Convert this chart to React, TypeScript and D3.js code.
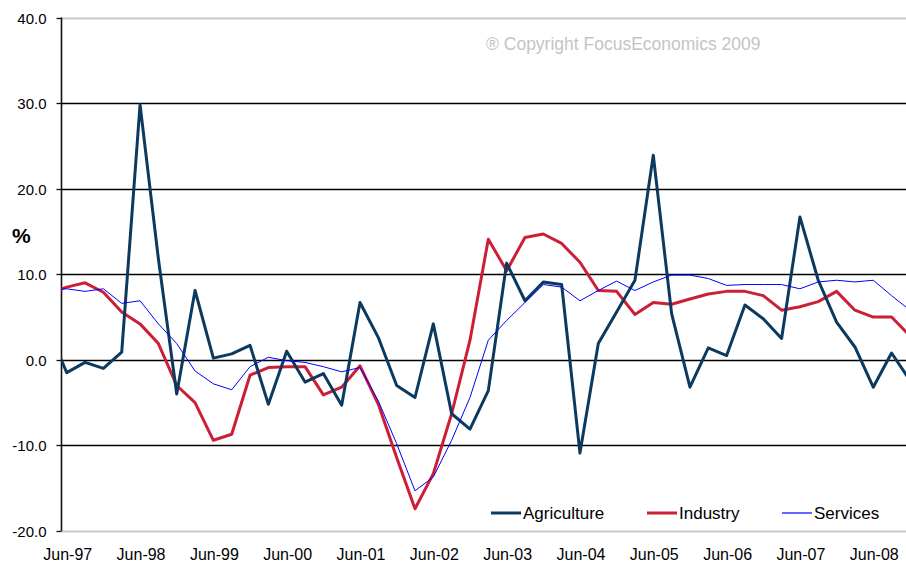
import React from 'react'
import * as d3 from 'd3'

// quarterly categories (Mar-97 sits just left of the axis and gets clipped)
const quarters = [
  'Mar-97', 'Jun-97', 'Sep-97', 'Dec-97',
  'Mar-98', 'Jun-98', 'Sep-98', 'Dec-98',
  'Mar-99', 'Jun-99', 'Sep-99', 'Dec-99',
  'Mar-00', 'Jun-00', 'Sep-00', 'Dec-00',
  'Mar-01', 'Jun-01', 'Sep-01', 'Dec-01',
  'Mar-02', 'Jun-02', 'Sep-02', 'Dec-02',
  'Mar-03', 'Jun-03', 'Sep-03', 'Dec-03',
  'Mar-04', 'Jun-04', 'Sep-04', 'Dec-04',
  'Mar-05', 'Jun-05', 'Sep-05', 'Dec-05',
  'Mar-06', 'Jun-06', 'Sep-06', 'Dec-06',
  'Mar-07', 'Jun-07', 'Sep-07', 'Dec-07',
  'Mar-08', 'Jun-08', 'Sep-08', 'Dec-08',
]

const agriculture = [
  3.5, -1.5, -0.3, -1.0,
  0.9, 29.8, 11.8, -4.0,
  8.1, 0.2, 0.7, 1.7,
  -5.2, 1.0, -2.6, -1.6,
  -5.3, 6.7, 2.6, -3.0,
  -4.4, 4.2, -6.3, -8.1,
  -3.6, 11.3, 6.9, 9.1,
  8.8, -10.9, 1.9, 5.6,
  9.3, 23.9, 5.4, -3.2,
  1.4, 0.5, 6.4, 4.8,
  2.5, 16.7, 9.3, 4.4,
  1.5, -3.2, 0.8, -2.4,
]

const industry = [
  7.8, 8.5, 9.0, 7.9,
  5.6, 4.2, 1.9, -3.0,
  -5.0, -9.4, -8.7, -1.8,
  -0.9, -0.8, -0.8, -4.1,
  -3.2, -0.7, -5.2, -11.4,
  -17.4, -13.3, -6.3, 2.3,
  14.1, 10.4, 14.3, 14.7,
  13.6, 11.4, 8.1, 8.0,
  5.3, 6.7, 6.5, 7.1,
  7.7, 8.0, 8.0, 7.5,
  5.8, 6.2, 6.8, 8.0,
  5.8, 5.0, 5.0, 2.8,
]

const services = [
  8.2, 8.3, 8.0, 8.3,
  6.6, 6.9, 4.2, 1.9,
  -1.3, -2.8, -3.5, -0.8,
  0.3, -0.1, -0.3, -0.8,
  -1.4, -0.9, -4.8, -9.8,
  -15.3, -13.7, -9.4, -4.4,
  2.3, 4.6, 6.7, 8.8,
  8.5, 6.9, 8.1, 9.2,
  8.1, 9.1, 9.9, 9.9,
  9.5, 8.7, 8.8, 8.8,
  8.8, 8.3, 9.1, 9.3,
  9.1, 9.3, 7.5, 5.8,
]

const xTickLabels = [
  'Jun-97', 'Jun-98', 'Jun-99', 'Jun-00', 'Jun-01', 'Jun-02',
  'Jun-03', 'Jun-04', 'Jun-05', 'Jun-06', 'Jun-07', 'Jun-08',
]
const yTicks = [-20, -10, 0, 10, 20, 30, 40]

const seriesNames = ['Agriculture', 'Industry', 'Services']

export default function App() {
  const width = 906,
    height = 566

  const plotLeft = 61.5,
    plotTop = 17.5,
    plotBottom = 531

  // quarter spacing is ~18.33px, Jun-97 at ~66.7
  const x = d3
    .scalePoint<string>()
    .domain(quarters)
    .range([48.4, 909.9])

  const y = d3.scaleLinear().domain([-20, 40]).range([plotBottom, plotTop])

  const line = d3
    .line<number>()
    .x((d, i) => x(quarters[i]) as number)
    .y(d => y(d))

  const styles = [
    { data: industry, color: '#cc1f36', w: 3 },
    { data: agriculture, color: '#0b3a5e', w: 3 },
    { data: services, color: '#0000ff', w: 1 },
  ]

  const legend = [
    { name: seriesNames[0], color: '#0b3a5e', w: 3, x: 491 },
    { name: seriesNames[1], color: '#cc1f36', w: 3, x: 647 },
    { name: seriesNames[2], color: '#0000ff', w: 1.2, x: 782 },
  ]

  const font = "'Liberation Sans', Arial, sans-serif"

  return (
    <svg
      width={width}
      height={height}
      style={{ position: 'absolute', left: 0, top: 0, background: '#fff' }}
      fontFamily={font}
    >
      <defs>
        <clipPath id="plot-clip">
          <rect x={plotLeft} y={0} width={width} height={height} />
        </clipPath>
      </defs>

      {/* gridlines */}
      {yTicks.map(t => (
        <line
          key={t}
          x1={plotLeft}
          x2={width}
          y1={Math.round(y(t)) + 0.5}
          y2={Math.round(y(t)) + 0.5}
          stroke={t === 40 || t === -20 ? '#c8c8c8' : '#000'}
          strokeWidth={t === 40 || t === -20 ? 2 : 1.4}
        />
      ))}

      {/* y axis */}
      <line x1={plotLeft} x2={plotLeft} y1={y(40)} y2={y(-20)} stroke="#111" strokeWidth={1.6} />
      {yTicks.map(t => (
        <g key={t} transform={`translate(${plotLeft}, ${Math.round(y(t)) + 0.5})`}>
          <line x1={-5} x2={0} y1={0} y2={0} stroke="#111" strokeWidth={1.3} />
          <text x={-15} y={5} textAnchor="end" fontSize={15} fill="#000">
            {t.toFixed(1)}
          </text>
        </g>
      ))}

      <text x={12} y={243} fontSize={21} fontWeight="bold" fill="#000">
        %
      </text>

      {/* x labels */}
      {xTickLabels.map(l => (
        <text key={l} x={(x(l) as number) + 1} y={560} textAnchor="middle" fontSize={16} fill="#000">
          {l}
        </text>
      ))}

      <text x={486} y={50} fontSize={17.5} fill="#c4c4c4">
        ® Copyright FocusEconomics 2009
      </text>

      {/* series */}
      <g clipPath="url(#plot-clip)">
        {styles.map((s, i) => (
          <path
            key={i}
            d={line(s.data) as string}
            fill="none"
            stroke={s.color}
            strokeWidth={s.w}
            strokeLinejoin="round"
          />
        ))}
      </g>

      {/* legend */}
      {legend.map(l => (
        <g key={l.name} transform={`translate(${l.x}, 513)`}>
          <line x1={0} x2={30} y1={0} y2={0} stroke={l.color} strokeWidth={l.w} />
          <text x={32} y={6} fontSize={17} fill="#000">
            {l.name}
          </text>
        </g>
      ))}
    </svg>
  )
}
